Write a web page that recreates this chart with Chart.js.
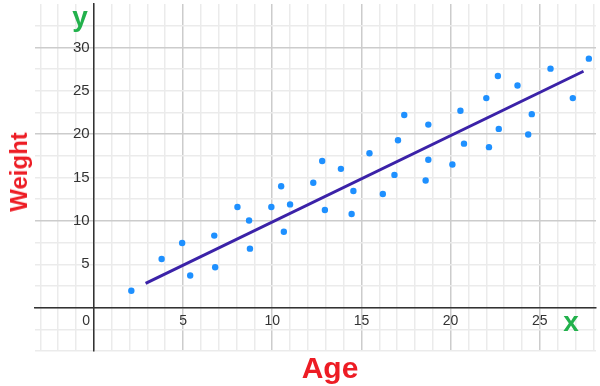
<!DOCTYPE html>
<html>
<head>
<meta charset="utf-8">
<script src="https://cdn.jsdelivr.net/npm/chart.js@4"></script>
<style>
  html, body { margin: 0; padding: 0; background: #fff; }
  #wrap { position: relative; width: 600px; height: 386px; }
  .lbl { position: absolute; font-family: 'Liberation Sans', Arial, sans-serif; font-weight: bold; white-space: nowrap; }
  .red { color: #ed1c24; }
  .green { color: #22b14c; }
</style>
</head>
<body>
<div id="wrap">
  <canvas id="chart" width="600" height="386"></canvas>
  <div class="lbl red" style="left:290px; top:353px; width:80px; text-align:center; font-size:30px; line-height:30px;">Age</div>
  <div class="lbl red" style="left:19px; top:172px; font-size:24px; line-height:24px; transform:translate(-50%,-50%) rotate(-90deg);">Weight</div>
  <div class="lbl green" style="left:60px; top:3px; width:40px; text-align:center; font-size:28px; line-height:28px;">y</div>
  <div class="lbl green" style="left:551px; top:308px; width:40px; text-align:center; font-size:28px; line-height:28px;">x</div>
</div>
<script>
// ── data ──
const ages    = [2.1, 3.8, 4.95, 5.4, 6.75, 6.8, 8.05, 8.7, 8.75, 9.95,
                 10.5, 10.65, 11.0, 12.3, 12.8, 12.95, 13.85, 14.45, 14.55, 15.45,
                 16.2, 16.85, 17.05, 17.4, 18.6, 18.75, 18.75, 20.1, 20.55, 20.75,
                 22.0, 22.15, 22.65, 22.7, 23.75, 24.35, 24.55, 25.6, 26.85, 27.75];
const weights = [1.95, 5.6, 7.45, 3.7, 8.3, 4.65, 11.6, 10.05, 6.8, 11.6,
                 14.0, 8.75, 11.9, 14.4, 16.9, 11.25, 16.0, 10.8, 13.45, 17.8,
                 13.1, 15.3, 19.3, 22.2, 14.65, 17.05, 21.1, 16.5, 22.7, 18.9,
                 24.15, 18.5, 26.7, 20.6, 25.6, 19.95, 22.3, 27.55, 24.15, 28.7];

// best-fit line ends
const fitAges    = [2.9, 27.45];
const fitWeights = [2.8, 27.25];

// labelled ticks
const xTicks = [0, 5, 10, 15, 20, 25];
const yTicks = [5, 10, 15, 20, 25, 30];

const MINOR = '#ebebeb', MAJOR = '#cccccc', AXIS = '#333333';
const FONT = "'Liberation Sans', Arial, sans-serif";

const noPad = s => { s.paddingLeft = s.paddingRight = s.paddingTop = s.paddingBottom = 0; };

new Chart(document.getElementById('chart'), {
  type: 'scatter',
  data: {
    datasets: [
      {
        label: 'Weight',
        data: ages.map((a, i) => ({ x: a, y: weights[i] })),
        backgroundColor: '#1e90ff',
        borderWidth: 0,
        pointRadius: 3.2,
        order: 1,
      },
      {
        type: 'line',
        label: 'Fit',
        data: fitAges.map((a, i) => ({ x: a, y: fitWeights[i] })),
        borderColor: '#3b22a8',
        borderWidth: 3,
        pointRadius: 0,
        fill: false,
        order: 2,
      }
    ]
  },
  options: {
    responsive: false,
    animation: false,
    layout: { padding: { left: 35, top: 4, right: 2, bottom: 35 } },
    plugins: { legend: { display: false }, tooltip: { enabled: false } },
    scales: {
      x: {
        type: 'linear',
        position: { y: 0 },
        min: -3.3, max: 28.15,
        afterFit: noPad,
        grid: {
          drawTicks: false,
          lineWidth: 1.5,
          color: c => (c.tick.value % 5 === 0 ? MAJOR : MINOR),
        },
        border: { color: AXIS, width: 1.5, z: 1 },
        ticks: {
          stepSize: 1, autoSkip: false, includeBounds: false, maxRotation: 0,
          padding: 5, color: '#333', font: { family: FONT, size: 14 },
          callback: v => (v === 0 ? '0    ' : (xTicks.includes(v) ? String(v) : '')),
        },
      },
      y: {
        type: 'linear',
        position: { x: 0 },
        min: -5, max: 35,
        afterFit: noPad,
        grid: {
          drawTicks: false,
          lineWidth: 1.5,
          color: c => (c.tick.value === 35 ? 'rgba(0,0,0,0)' : (c.tick.value % 10 === 0 ? MAJOR : MINOR)),
        },
        border: { color: AXIS, width: 1.5, z: 1 },
        ticks: {
          stepSize: 2.5, autoSkip: false, includeBounds: false,
          padding: 5, color: '#333', font: { family: FONT, size: 15 },
          callback: v => (yTicks.includes(v) ? v + ' ' : ''),
        },
      }
    }
  }
});
</script>
</body>
</html>
